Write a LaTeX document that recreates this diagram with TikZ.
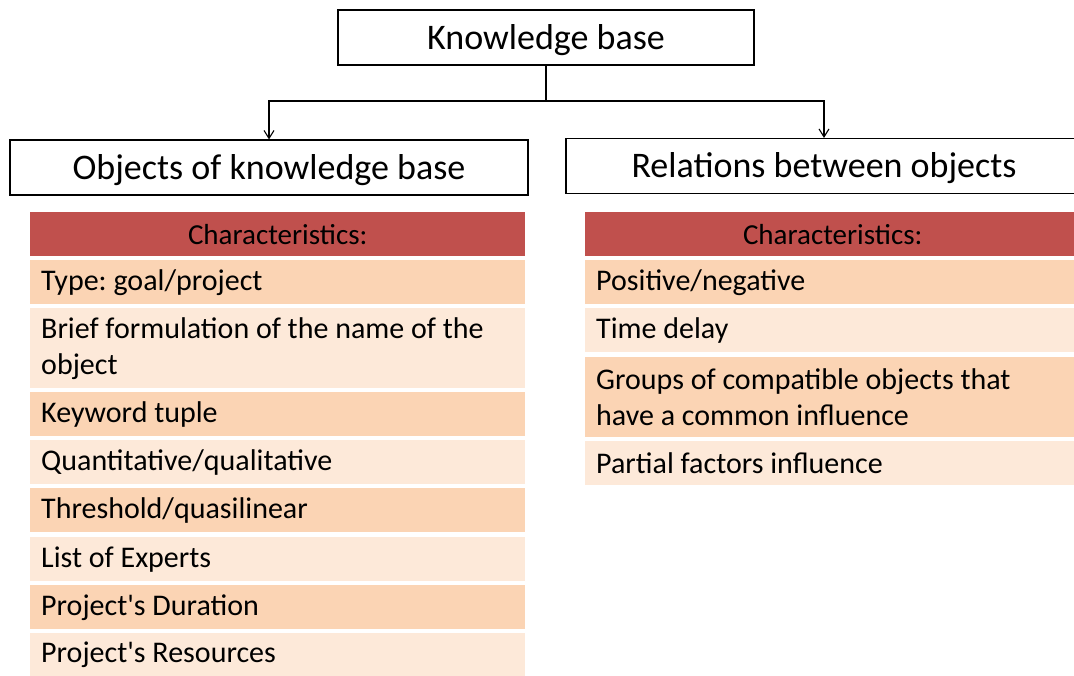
\documentclass[tikz,border=0pt]{standalone}
\usepackage{fontspec}
\setmainfont{Carlito}
\usetikzlibrary{arrows.meta}

\definecolor{headred}{HTML}{C0504D}
\definecolor{banddark}{HTML}{FBD4B4}
\definecolor{bandlight}{HTML}{FDE9D9}

\frenchspacing
\begin{document}
\begin{tikzpicture}[x=1pt,y=-1pt,>={Straight Barb[length=8pt,width=10pt]},
  title/.style={draw,line width=1.1pt,minimum height=55pt,inner sep=0pt,
    text depth=2pt,font=\fontsize{36}{40}\selectfont},
  cell/.style={anchor=north west,minimum width=495pt,minimum height=44pt,
    text width=473pt,inner xsep=11pt,inner ysep=0pt,align=left,
    font=\fontsize{30}{36}\selectfont,
    execute at begin node={\spaceskip=0pt\xspaceskip=0pt}},
  head/.style={cell,fill=headred,align=center,font=\fontsize{29}{36}\selectfont},
  dark/.style={cell,fill=banddark},
  light/.style={cell,fill=bandlight}]
  \useasboundingbox (0,0) rectangle (1074,675);
  \clip (0,0) rectangle (1074,675);

  % top level boxes
  \node[title,minimum width=416pt] (kb) at (546,37.5) {Knowledge base};
  \node[title,minimum width=518pt] (obj) at (269,167.5) {Objects of knowledge base};
  \node[title,minimum width=516pt] (rel) at (824,166) {Relations between objects};

  \draw[line width=1.6pt] (kb.south) -- (546,101) coordinate (split);
  \draw[->,line width=1.1pt] (split) -| (obj.north);
  \draw[->,line width=1.1pt] (split) -| (rel.north);

  % characteristics of the objects
  \node[head] (oh) at (30,212) {Characteristics:};
  \node[dark] (o1) at (30,260) {Type: goal/project};
  \node[light,minimum height=80pt] (o2) at (30,308) {Brief formulation of the name of the\\object};
  \node[dark] (o3) at (30,392) {Keyword tuple};
  \node[light] (o4) at (30,440) {Quantitative/qualitative};
  \node[dark] (o5) at (30,488) {Threshold/quasilinear};
  \node[light] (o6) at (30,537) {List of Experts};
  \node[dark] (o7) at (30,585) {Project\textquotesingle s Duration};
  \node[light] (o8) at (30,633) {Project\textquotesingle s Resources};

  % characteristics of the relations
  \node[head] (rh) at (585,212) {Characteristics:};
  \node[dark] (r1) at (585,260) {Positive/negative};
  \node[light] (r2) at (585,308) {Time delay};
  \node[dark,minimum height=80pt] (r3) at (585,357) {Groups of compatible objects that\\have a common influence};
  \node[light] (r4) at (585,441) {Partial factors influence};
\end{tikzpicture}
\end{document}
